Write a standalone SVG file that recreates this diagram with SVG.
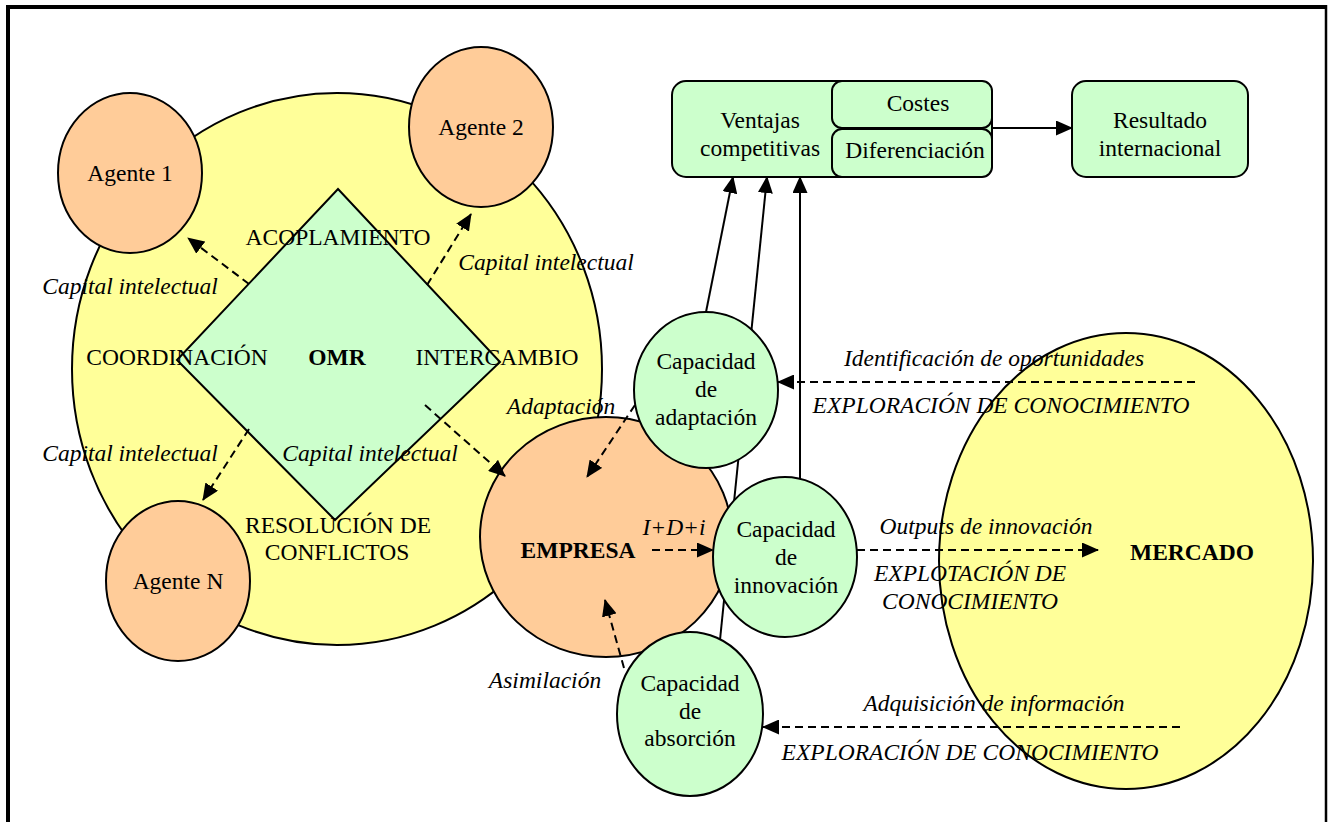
<svg xmlns="http://www.w3.org/2000/svg" width="1330" height="822" viewBox="0 0 1330 822">
  <style>
    .t { font-family: "Liberation Serif", "Times New Roman", serif; font-size: 23.5px; fill: #000; text-anchor: middle; }
    .i { font-style: italic; }
    .b { font-weight: bold; }
    .yel { fill: #FFFF99; stroke: #000; stroke-width: 2; }
    .peach { fill: #FFCC99; stroke: #000; stroke-width: 2; }
    .grn { fill: #CCFFCC; stroke: #000; stroke-width: 2; }
    .dash { fill: none; stroke: #000; stroke-width: 2; stroke-dasharray: 8 5; marker-end: url(#ah); }
    .solid { fill: none; stroke: #000; stroke-width: 2; marker-end: url(#ah); }
  </style>
  <defs>
    <marker id="ah" markerWidth="17" markerHeight="15" refX="16" refY="7.5" orient="auto" markerUnits="userSpaceOnUse">
      <path d="M0,0 L17,7.5 L0,15 z" fill="#000"/>
    </marker>
  </defs>

  <rect x="0" y="0" width="1330" height="822" fill="#fff"/>

  <!-- frame -->
  <g id="frame" stroke="#000" fill="none">
    <line x1="8" y1="5" x2="8" y2="822" stroke-width="4"/>
    <line x1="6" y1="7" x2="1327" y2="7" stroke-width="4"/>
    <line x1="1326" y1="5" x2="1326" y2="822" stroke-width="2.5"/>
  </g>

  <!-- OMR network: circle with the relation diamond -->
  <g id="omr">
    <ellipse class="yel" cx="337" cy="369" rx="265" ry="276"/>
    <polygon class="grn" points="338,189 500,362 335,520 177,360"/>
    <text class="t" x="338" y="245">ACOPLAMIENTO</text>
    <text class="t" x="177" y="365">COORDINACIÓN</text>
    <text class="t b" x="337" y="365">OMR</text>
    <text class="t" x="497" y="365">INTERCAMBIO</text>
    <text class="t" x="338" y="533">RESOLUCIÓN DE</text>
    <text class="t" x="337" y="560">CONFLICTOS</text>
  </g>

  <g id="agente1">
    <ellipse class="peach" cx="130" cy="173" rx="72" ry="80"/>
    <text class="t" x="130" y="181">Agente 1</text>
  </g>
  <g id="agente2">
    <ellipse class="peach" cx="481" cy="127" rx="72" ry="80"/>
    <text class="t" x="481" y="135">Agente 2</text>
  </g>
  <g id="agenteN">
    <ellipse class="peach" cx="178" cy="581" rx="72" ry="80"/>
    <text class="t" x="178" y="589">Agente N</text>
  </g>

  <g id="empresa">
    <ellipse class="peach" cx="606" cy="537" rx="126" ry="120"/>
    <text class="t b" x="578" y="558">EMPRESA</text>
  </g>

  <g id="mercado">
    <ellipse class="yel" cx="1126" cy="561" rx="187" ry="228"/>
    <text class="t b" x="1192" y="560">MERCADO</text>
  </g>

  <g id="ventajas">
    <rect class="grn" x="672" y="81" width="320" height="96" rx="14"/>
    <text class="t" x="760" y="128">Ventajas</text>
    <text class="t" x="760" y="156">competitivas</text>
  </g>
  <g id="costes">
    <rect class="grn" x="832" y="81" width="160" height="47" rx="10"/>
    <text class="t" x="918" y="111">Costes</text>
  </g>
  <g id="diferenciacion">
    <rect class="grn" x="832" y="129" width="160" height="48" rx="10"/>
    <text class="t" x="915" y="158">Diferenciación</text>
  </g>
  <g id="resultado">
    <rect class="grn" x="1072" y="81" width="176" height="96" rx="14"/>
    <text class="t" x="1160" y="128">Resultado</text>
    <text class="t" x="1160" y="156">internacional</text>
  </g>

  <!-- connectors -->
  <g id="connectors">
    <line class="dash" x1="249" y1="284" x2="188" y2="238"/>
    <line class="dash" x1="427" y1="285" x2="471" y2="214"/>
    <line class="dash" x1="249" y1="429" x2="203" y2="500"/>
    <line class="dash" x1="425" y1="405" x2="505" y2="476"/>
    <line class="dash" x1="635" y1="405" x2="587" y2="477"/>
    <line class="dash" x1="624" y1="668" x2="605" y2="600"/>
    <line class="dash" x1="652" y1="550" x2="713" y2="550"/>
    <line class="dash" x1="857" y1="550" x2="1098" y2="550"/>
    <line class="dash" x1="1195" y1="382" x2="778" y2="382"/>
    <line class="dash" x1="1180" y1="727" x2="763" y2="727"/>
    <line class="solid" x1="706" y1="312" x2="733" y2="177"/>
    <line class="solid" x1="720" y1="640" x2="767" y2="177"/>
    <line class="solid" x1="800" y1="478" x2="800" y2="177"/>
    <line class="solid" x1="992" y1="128" x2="1072" y2="128"/>

    <text class="t i" x="130" y="294">Capital intelectual</text>
    <text class="t i" x="546" y="270">Capital intelectual</text>
    <text class="t i" x="130" y="461">Capital intelectual</text>
    <text class="t i" x="370" y="461">Capital intelectual</text>
    <text class="t i" x="561" y="414">Adaptación</text>
    <text class="t i" x="545" y="688">Asimilación</text>
    <text class="t i" x="674" y="535">I+D+i</text>
    <text class="t i" x="994" y="366">Identificación de oportunidades</text>
    <text class="t i" x="1001" y="413">EXPLORACIÓN DE CONOCIMIENTO</text>
    <text class="t i" x="986" y="534">Outputs de innovación</text>
    <text class="t i" x="970" y="581">EXPLOTACIÓN DE</text>
    <text class="t i" x="970" y="609">CONOCIMIENTO</text>
    <text class="t i" x="994" y="711">Adquisición de información</text>
    <text class="t i" x="970" y="760">EXPLORACIÓN DE CONOCIMIENTO</text>
  </g>

  <!-- capabilities -->
  <g id="cap-adaptacion">
    <ellipse class="grn" cx="706" cy="390" rx="72" ry="78"/>
    <text class="t" x="706" y="369">Capacidad</text>
    <text class="t" x="706" y="397">de</text>
    <text class="t" x="706" y="425">adaptación</text>
  </g>
  <g id="cap-innovacion">
    <ellipse class="grn" cx="785" cy="557" rx="72" ry="80"/>
    <text class="t" x="786" y="537">Capacidad</text>
    <text class="t" x="786" y="565">de</text>
    <text class="t" x="786" y="593">innovación</text>
  </g>
  <g id="cap-absorcion">
    <ellipse class="grn" cx="690" cy="714" rx="73" ry="82"/>
    <text class="t" x="690" y="691">Capacidad</text>
    <text class="t" x="690" y="719">de</text>
    <text class="t" x="690" y="746">absorción</text>
  </g>
</svg>
